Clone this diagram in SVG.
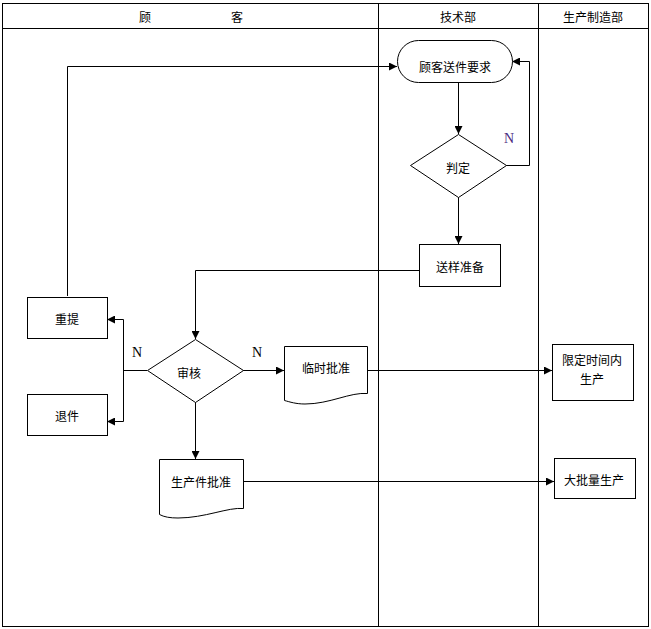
<svg xmlns="http://www.w3.org/2000/svg" width="651" height="629" viewBox="0 0 651 629">
<defs>
<marker id="ah" viewBox="0 0 10 10" refX="10" refY="5" markerWidth="9" markerHeight="8" markerUnits="userSpaceOnUse" orient="auto">
<path d="M0,0 L10,5 L0,10 Z" fill="#000"/>
</marker>
<style>
.ln{fill:none;stroke:#000;stroke-width:1}
.cn{fill:none;stroke:#000;stroke-width:1;marker-end:url(#ah)}
.cp{fill:none;stroke:#000;stroke-width:1}
.shp{fill:#fff;stroke:#000;stroke-width:1}
.t{font-family:"Noto Sans CJK SC","Liberation Sans",sans-serif;font-size:12px;fill:#000;text-anchor:middle;dominant-baseline:central}
.n{font-family:"Liberation Serif",serif;font-size:14px;fill:#000;text-anchor:middle;dominant-baseline:central}
</style>
</defs>
<rect x="0" y="0" width="651" height="629" fill="#fff"/>
<g id="frame">
<rect x="2.5" y="3.5" width="646" height="623" class="ln"/>
<line x1="2.5" y1="28.5" x2="648.5" y2="28.5" class="ln"/>
<line x1="378.5" y1="3.5" x2="378.5" y2="626.5" class="ln"/>
<line x1="538.5" y1="3.5" x2="538.5" y2="626.5" class="ln"/>
<text class="t" x="145" y="16">顾</text>
<text class="t" x="237" y="16">客</text>
<text class="t" x="458" y="16">技术部</text>
<text class="t" x="593" y="16">生产制造部</text>
</g>
<g id="connectors">
<path class="cn" d="M67.5,296 V66.5 H397"/>
<path class="cp" d="M506,165.5 H529.5 V61.5"/>
<path class="cn" d="M529.5,61.5 H512"/>
<path class="cn" d="M458.5,82 V134"/>
<path class="cn" d="M458.5,197 V244"/>
<path class="cn" d="M419,270.5 H195.5 V339"/>
<path class="cp" d="M147,370.5 H123.5"/>
<path class="cp" d="M123.5,319.5 V421.5"/>
<path class="cn" d="M123.5,319.5 H107"/>
<path class="cn" d="M123.5,421.5 H107"/>
<path class="cn" d="M243,370.5 H284"/>
<path class="cn" d="M367,370.5 H552"/>
<path class="cn" d="M195.5,402 V459"/>
<path class="cn" d="M243,481.5 H554"/>
<text class="n" x="509" y="138" style="fill:#4b2a7f">N</text>
<text class="n" x="137" y="352">N</text>
<text class="n" x="257" y="352">N</text>
</g>
<g id="n_request">
<rect class="shp" x="397.5" y="40.5" width="115" height="42" rx="21" ry="21"/>
<text class="t" x="455" y="66">顾客送件要求</text>
</g>
<g id="n_judge">
<path class="shp" d="M458.5,134.5 L506.5,165.5 L458.5,197.5 L410.5,165.5 Z"/>
<text class="t" x="458" y="167">判定</text>
</g>
<g id="n_prepare">
<rect class="shp" x="419.5" y="244.5" width="81" height="42"/>
<text class="t" x="460" y="266">送样准备</text>
</g>
<g id="n_review">
<path class="shp" d="M195.5,339.5 L243.5,370.5 L195.5,402.5 L147.5,370.5 Z"/>
<text class="t" x="189" y="372">审核</text>
</g>
<g id="n_resubmit">
<rect class="shp" x="27.5" y="297.5" width="80" height="41"/>
<text class="t" x="67" y="318">重提</text>
</g>
<g id="n_return">
<rect class="shp" x="27.5" y="394.5" width="80" height="41"/>
<text class="t" x="67" y="415">退件</text>
</g>
<g id="n_temp">
<path class="shp" d="M284.5,346.5 H367.5 V393.5 C350,392 330,404 305,404 C296,404 290,402 284.5,400.5 Z"/>
<text class="t" x="326" y="367">临时批准</text>
</g>
<g id="n_ppap">
<path class="shp" d="M159.5,459.5 H243.5 V508.5 C228,507 205,518 178,518 C170,518 164,517 159.5,514.5 Z"/>
<text class="t" x="201" y="481">生产件批准</text>
</g>
<g id="n_limited">
<rect class="shp" x="552.5" y="344.5" width="81" height="56"/>
<text class="t" x="592" y="359">限定时间内</text>
<text class="t" x="592" y="378">生产</text>
</g>
<g id="n_mass">
<rect class="shp" x="554.5" y="458.5" width="81" height="40"/>
<text class="t" x="594" y="479">大批量生产</text>
</g>
</svg>
